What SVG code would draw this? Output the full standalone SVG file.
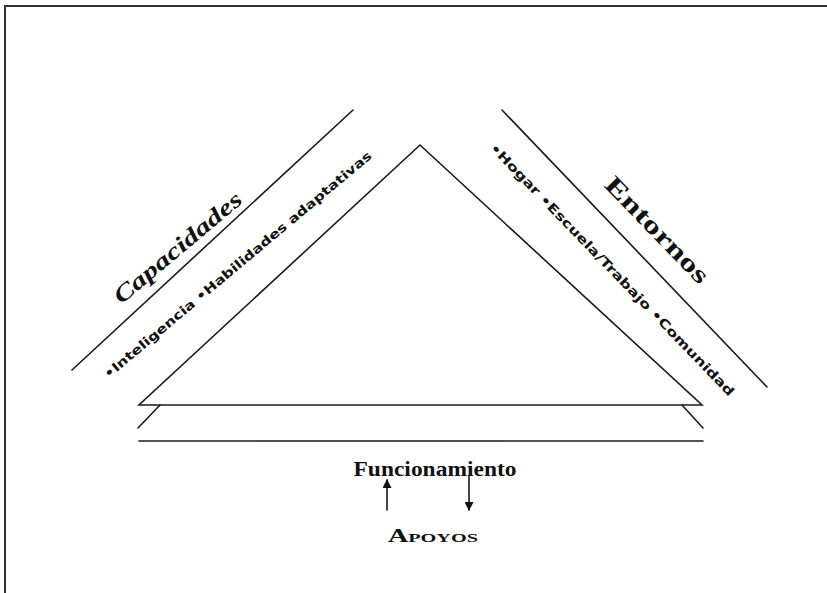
<svg xmlns="http://www.w3.org/2000/svg" width="827" height="593" viewBox="0 0 827 593">
  <style>
    .ln { stroke: #1a1a1a; stroke-width: 1.6; fill: none; stroke-linecap: round; }
    .frame { stroke: #333; stroke-width: 2; fill: none; }
    .title { font-family: "Liberation Serif", serif; font-weight: bold; fill: #111; }
    .items { font-family: "DejaVu Sans", sans-serif; font-weight: bold; fill: #111; }
  </style>
  <defs>
    <marker id="head" viewBox="0 0 10 10" refX="9" refY="5" markerWidth="10" markerHeight="9" markerUnits="userSpaceOnUse" orient="auto">
      <path d="M0,0 L10,5 L0,10 Z" fill="#111"/>
    </marker>
  </defs>

  <rect width="827" height="593" fill="#fff"/>
  <!-- page frame (top and left edges) -->
  <path class="frame" d="M5,593 L5,6 L827,6"/>

  <!-- central triangle with stacked base -->
  <g id="triangulo">
    <path class="ln" d="M420,145 L139,405 L702,405 Z"/>
    <path class="ln" d="M160,405 L138,428"/>
    <path class="ln" d="M682,405 L703,428"/>
    <path class="ln" d="M139,441 L703,441"/>
  </g>

  <!-- left band: Capacidades -->
  <g id="capacidades">
    <path class="ln" d="M72,370 L353,110"/>
    <text class="title" font-style="italic" font-size="23" text-anchor="middle" transform="translate(178,248) rotate(-40)" x="0" y="7" textLength="160" lengthAdjust="spacingAndGlyphs">Capacidades</text>
    <text class="items" font-size="12.5" text-anchor="middle" transform="translate(238,265) rotate(-40)" x="0" y="4" textLength="345" lengthAdjust="spacingAndGlyphs">•Inteligencia •Habilidades adaptativas</text>
  </g>

  <!-- right band: Entornos -->
  <g id="entornos">
    <path class="ln" d="M502,110 L767,387"/>
    <text class="title" font-size="25" text-anchor="middle" transform="translate(657,230) rotate(46)" x="0" y="8" textLength="138" lengthAdjust="spacingAndGlyphs">Entornos</text>
    <text class="items" font-size="12.5" text-anchor="middle" transform="translate(612,270) rotate(46)" x="0" y="4" textLength="345" lengthAdjust="spacingAndGlyphs">•Hogar •Escuela/Trabajo •Comunidad</text>
  </g>

  <!-- functioning and supports -->
  <g id="funcionamiento">
    <text class="title" font-size="22" text-anchor="middle" x="435" y="476" textLength="163" lengthAdjust="spacingAndGlyphs">Funcionamiento</text>
  </g>
  <g id="apoyos">
    <text class="title" font-size="18" font-variant="small-caps" text-anchor="middle" x="433" y="542" textLength="90" lengthAdjust="spacingAndGlyphs">Apoyos</text>
  </g>

  <g id="conectores">
    <path class="ln" d="M387,510 L387,480" marker-end="url(#head)"/>
    <path class="ln" d="M469,476 L469,510" marker-end="url(#head)"/>
  </g>
</svg>
